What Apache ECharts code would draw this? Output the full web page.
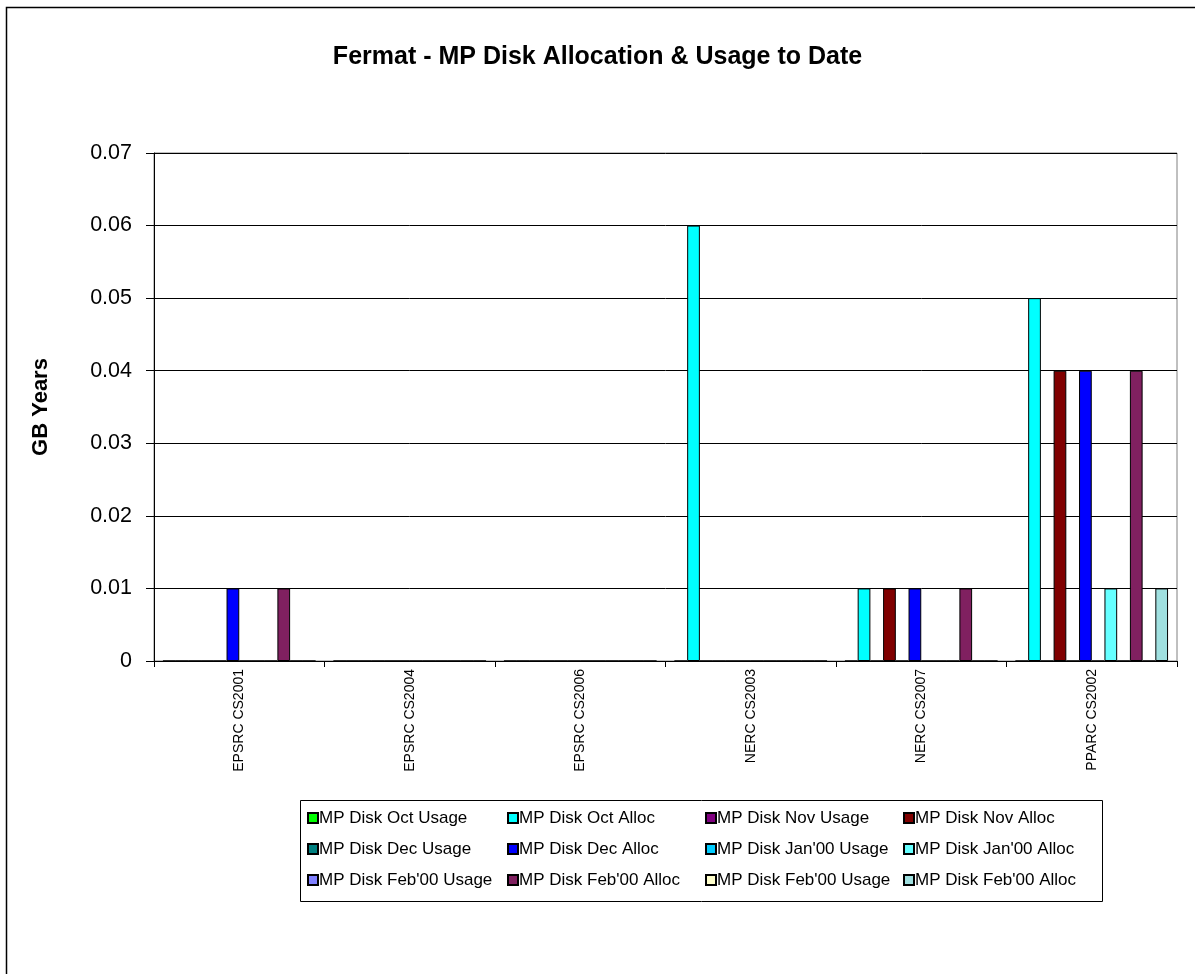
<!DOCTYPE html>
<html>
<head>
<meta charset="utf-8">
<script src="https://cdn.jsdelivr.net/npm/echarts@6/dist/echarts.min.js"></script>
<style>
html,body{margin:0;padding:0;background:#fff;}
#chart{width:1195px;height:974px;}
</style>
</head>
<body>
<div id="chart"></div>
<script>
var categories = ['EPSRC CS2001','EPSRC CS2004','EPSRC CS2006','NERC CS2003','NERC CS2007','PPARC CS2002'];
var yTicks = [0, 0.01, 0.02, 0.03, 0.04, 0.05, 0.06, 0.07];

var octUsage      = [0, 0, 0, 0, 0, 0];
var octAlloc      = [0, 0, 0, 0.06, 0.01, 0.05];
var novUsage      = [0, 0, 0, 0, 0, 0];
var novAlloc      = [0, 0, 0, 0, 0.01, 0.04];
var decUsage      = [0, 0, 0, 0, 0, 0];
var decAlloc      = [0.01, 0, 0, 0, 0.01, 0.04];
var jan00Usage    = [0, 0, 0, 0, 0, 0];
var jan00Alloc    = [0, 0, 0, 0, 0, 0.01];
var feb00Usage    = [0, 0, 0, 0, 0, 0];
var feb00Alloc    = [0.01, 0, 0, 0, 0.01, 0.04];
var feb00Usage2   = [0, 0, 0, 0, 0, 0];
var feb00Alloc2   = [0, 0, 0, 0, 0, 0.01];

var seriesNames = ['MP Disk Oct Usage','MP Disk Oct Alloc','MP Disk Nov Usage','MP Disk Nov Alloc',
  'MP Disk Dec Usage','MP Disk Dec Alloc',"MP Disk Jan'00 Usage","MP Disk Jan'00 Alloc",
  "MP Disk Feb'00 Usage","MP Disk Feb'00 Alloc","MP Disk Feb'00 Usage\u200B","MP Disk Feb'00 Alloc\u200B"];
var seriesData = [octUsage, octAlloc, novUsage, novAlloc, decUsage, decAlloc,
  jan00Usage, jan00Alloc, feb00Usage, feb00Alloc, feb00Usage2, feb00Alloc2];
var seriesColors = ['#00FF00','#00FFFF','#800080','#800000','#008080','#0000FF',
  '#00CCFF','#66FFFF','#8080FF','#802060','#FFFFCC','#A0E0E0'];

var FONT = 'Liberation Sans, Arial, sans-serif';

var series = seriesNames.map(function(n, i){
  return {
    name: n, type: 'bar', data: seriesData[i],
    barGap: '0%', barCategoryGap: '10.5%',
    itemStyle: {color: seriesColors[i], borderColor: '#000', borderWidth: 1},
    emphasis: {disabled: true},
    animation: false
  };
});

var legendCols = [307, 507, 705, 903];
var legends = legendCols.map(function(x, c){
  var d = [];
  for (var r = 0; r < 3; r++) d.push(seriesNames[r*4 + c]);
  return {
    data: d, orient: 'vertical', left: x, top: 808,
    itemWidth: 10, itemHeight: 10, itemGap: 11, padding: 0,
    icon: 'rect',
    selectedMode: false,
    textStyle: {fontFamily: FONT, fontSize: 17, color: '#000', lineHeight: 20, padding: [0,0,0,-4]}
  };
});

var chart = echarts.init(document.getElementById('chart'));
chart.setOption({
  animation: false,
  backgroundColor: '#fff',
  title: {
    text: 'Fermat - MP Disk Allocation & Usage to Date',
    left: 'center', top: 40,
    textStyle: {fontFamily: FONT, fontSize: 25, fontWeight: 'bold', color: '#000'}
  },
  legend: legends,
  grid: {left: 154, right: 18, top: 153, bottom: 313, containLabel: false,
    show: true, borderColor: '#808080', borderWidth: 1},
  xAxis: {
    type: 'category', data: categories,
    axisLine: {lineStyle: {color: '#000', width: 1}},
    axisTick: {show: true, length: 6, lineStyle: {color: '#000'}},
    axisLabel: {rotate: 90, margin: 8, fontFamily: FONT, fontSize: 14, color: '#000'}
  },
  yAxis: {
    type: 'value', min: yTicks[0], max: yTicks[yTicks.length-1], interval: 0.01,
    name: 'GB Years', nameLocation: 'middle', nameGap: 102, nameRotate: 90,
    nameTextStyle: {fontFamily: FONT, fontSize: 22, fontWeight: 'bold', color: '#000'},
    axisLine: {show: true, lineStyle: {color: '#000', width: 1}},
    axisTick: {show: true, length: 8, lineStyle: {color: '#000'}},
    axisLabel: {margin: 22, fontFamily: FONT, fontSize: 21.5, color: '#000',
      formatter: function(v){ return v === 0 ? '0' : v.toFixed(2); }},
    splitLine: {show: true, lineStyle: {color: '#000', width: 1}}
  },
  graphic: [
    {type: 'rect', shape: {x: 300.5, y: 800.5, width: 802, height: 101},
     style: {fill: 'none', stroke: '#000', lineWidth: 1}, silent: true},
    {type: 'polyline', shape: {points: [[6.5, 974], [6.5, 7.5], [1195, 7.5]]},
     style: {fill: 'none', stroke: '#000', lineWidth: 1.5}, silent: true}
  ],
  series: series
});
</script>
</body>
</html>
